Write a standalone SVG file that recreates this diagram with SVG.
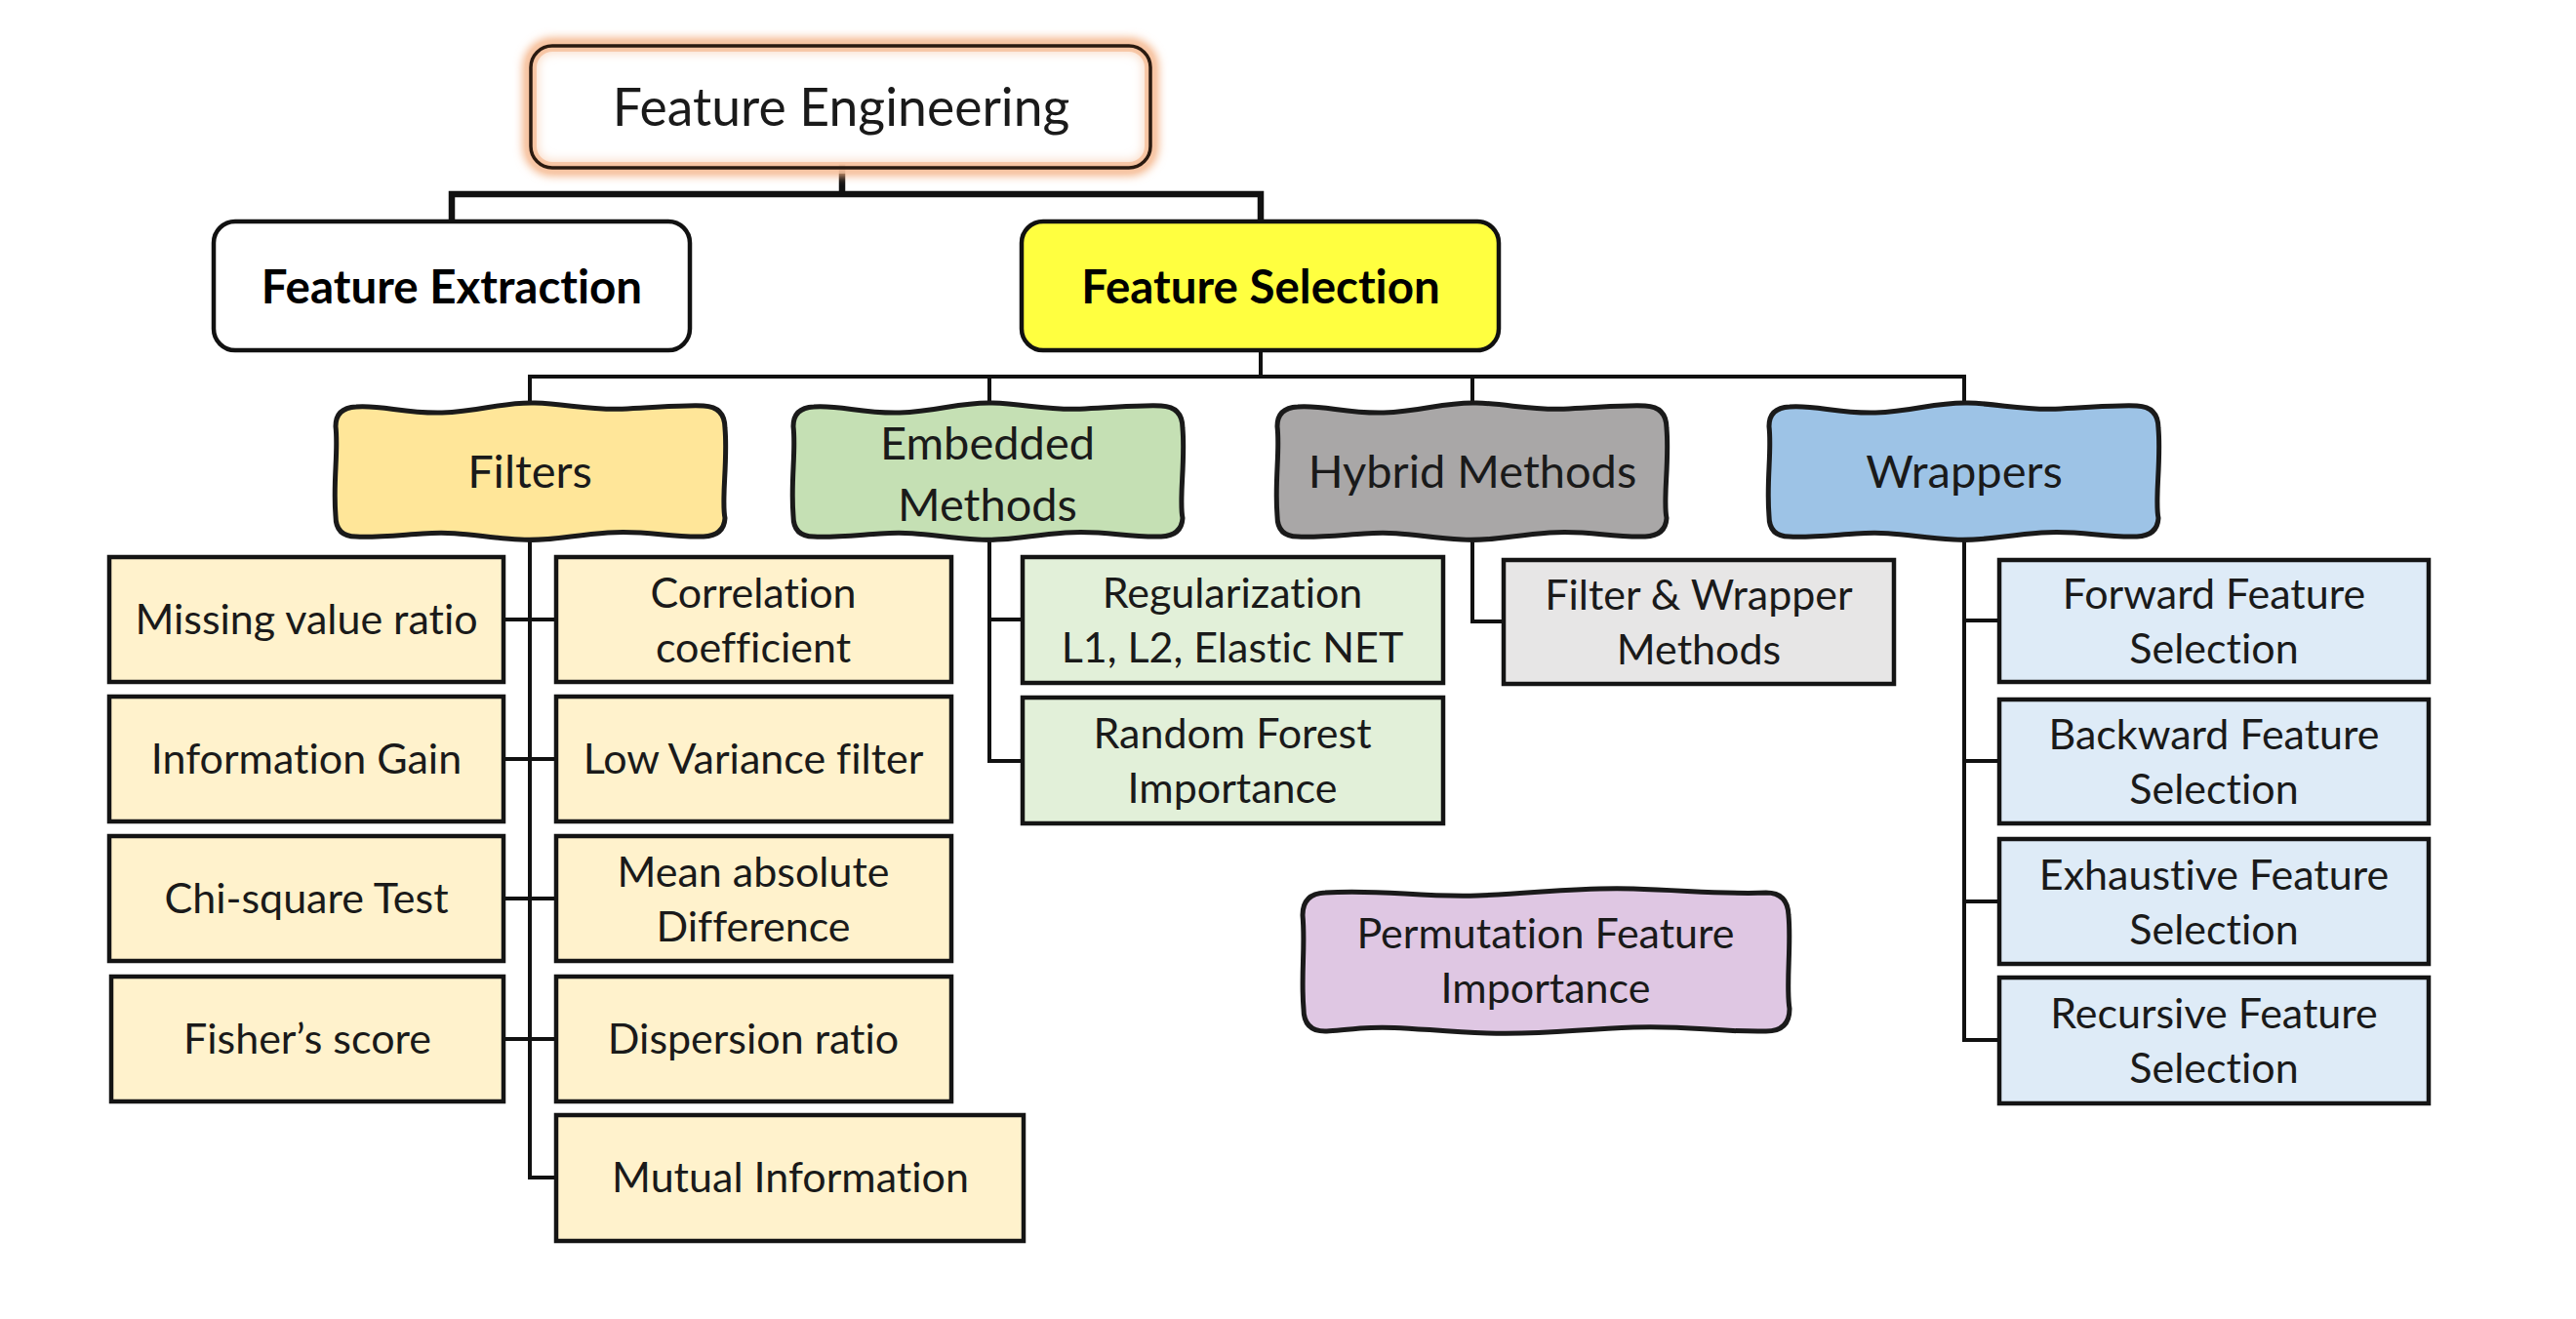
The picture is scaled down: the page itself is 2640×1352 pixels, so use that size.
<svg xmlns="http://www.w3.org/2000/svg" xmlns:xlink="http://www.w3.org/1999/xlink" width="2640" height="1352" viewBox="0 0 2640 1352">
<defs>
<style>
.t{font-family:Lato,"Open Sans","Liberation Sans",sans-serif;fill:#1a1a1a;text-anchor:middle;font-variant-ligatures:none}
.s1{font-size:53.5px}
.sb{font-size:47.5px;font-weight:bold;fill:#000}
.s2{font-size:47px}
.s3{font-size:43px}
.box3{stroke:#141414;stroke-width:4.5}
.wave{stroke:#1a1a1a;stroke-width:5;stroke-linejoin:round}
.round{stroke:#111;stroke-width:4.5}
.conn{stroke:#111;fill:none;stroke-width:4;stroke-linecap:square}
.thick{stroke-width:6.5}
</style>
<filter id="glow" x="-10%" y="-30%" width="120%" height="160%">
<feGaussianBlur stdDeviation="5"/>
</filter>
<path id="wave2" d="M 22,4 C 50,2 70,11 110,10 C 150,9 170,-1 205,0 C 240,1 260,8 300,6 C 340,4 360,2 378,3 Q 400,4 400,26 C 403,60 396,100 400,118 Q 399,136 378,137 C 340,138 320,130 280,133 C 240,136 220,142 190,140 C 150,138 130,131 90,134 C 60,136 40,138 22,137 Q 1,137 1,116 C -2,80 4,50 1,24 Q 1,5 22,4 Z"/>
</defs>
<rect width="2640" height="1352" fill="#ffffff"/>

<g id="connectors">
<path class="conn thick" d="M 863,172 V 199 M 463,226 V 199 H 1292 V 226"/>
<path class="conn" d="M 1292,359 V 386 M 543,413 V 386 H 2013 V 413 M 1014,386 V 413 M 1509,386 V 413"/>
<path class="conn" d="M 543,551 V 1207 H 570 M 516,635 H 570 M 516,778 H 570 M 516,921 H 570 M 516,1065 H 570"/>
<path class="conn" d="M 1014,553 V 780 H 1048 M 1014,635 H 1048"/>
<path class="conn" d="M 1509,553 V 637 H 1541"/>
<path class="conn" d="M 2013,553 V 1066 H 2049 M 2013,636 H 2049 M 2013,780 H 2049 M 2013,924 H 2049"/>
</g>

<g id="feature-engineering">
<rect x="544" y="47" width="635" height="125" rx="22" fill="none" stroke="#F4B183" stroke-width="16" filter="url(#glow)"/>
<rect x="544" y="47" width="635" height="125" rx="22" fill="#ffffff" stroke="#F8CBAD" stroke-width="12" opacity="0.6"/>
<rect x="544" y="47" width="635" height="125" rx="22" fill="none" stroke="#2a1a10" stroke-width="3.5"/>
<text class="t s1" x="862" y="129">Feature Engineering</text>
</g>

<g id="feature-extraction">
<rect class="round" x="219" y="227" width="488" height="132" rx="22" fill="#ffffff"/>
<text class="t sb" x="463" y="311">Feature Extraction</text>
</g>

<g id="feature-selection">
<rect class="round" x="1047" y="227" width="489" height="132" rx="22" fill="#FFFF40"/>
<text class="t sb" x="1292" y="311">Feature Selection</text>
</g>

<g id="filters">
<use xlink:href="#wave2" href="#wave2" class="wave" fill="#FFE699" transform="translate(343,413)"/>
<text class="t s2" x="543" y="500">Filters</text>
</g>
<g id="embedded-methods">
<use xlink:href="#wave2" href="#wave2" class="wave" fill="#C5E0B4" transform="translate(812,413)"/>
<text class="t s2" x="1012" y="471">Embedded</text>
<text class="t s2" x="1012" y="534">Methods</text>
</g>
<g id="hybrid-methods">
<use xlink:href="#wave2" href="#wave2" class="wave" fill="#A9A7A7" transform="translate(1308,413)"/>
<text class="t s2" x="1509" y="500">Hybrid Methods</text>
</g>
<g id="wrappers">
<use xlink:href="#wave2" href="#wave2" class="wave" fill="#9DC3E6" transform="translate(1812,413)"/>
<text class="t s2" x="2013" y="500">Wrappers</text>
</g>

<g id="missing-value-ratio">
<rect class="box3" x="112" y="571" width="404" height="128" fill="#FFF2CC"/>
<text class="t s3" x="314" y="650">Missing value ratio</text>
</g>
<g id="information-gain">
<rect class="box3" x="112" y="714" width="404" height="128" fill="#FFF2CC"/>
<text class="t s3" x="314" y="793">Information Gain</text>
</g>
<g id="chi-square-test">
<rect class="box3" x="112" y="857" width="404" height="128" fill="#FFF2CC"/>
<text class="t s3" x="314" y="936">Chi-square Test</text>
</g>
<g id="fishers-score">
<rect class="box3" x="114" y="1001" width="402" height="128" fill="#FFF2CC"/>
<text class="t s3" x="315" y="1080">Fisher’s score</text>
</g>

<g id="correlation-coefficient">
<rect class="box3" x="570" y="571" width="405" height="128" fill="#FFF2CC"/>
<text class="t s3" x="772" y="623">Correlation</text>
<text class="t s3" x="772" y="679">coefficient</text>
</g>
<g id="low-variance-filter">
<rect class="box3" x="570" y="714" width="405" height="128" fill="#FFF2CC"/>
<text class="t s3" x="772" y="793">Low Variance filter</text>
</g>
<g id="mean-absolute-difference">
<rect class="box3" x="570" y="857" width="405" height="128" fill="#FFF2CC"/>
<text class="t s3" x="772" y="909">Mean absolute</text>
<text class="t s3" x="772" y="965">Difference</text>
</g>
<g id="dispersion-ratio">
<rect class="box3" x="570" y="1001" width="405" height="128" fill="#FFF2CC"/>
<text class="t s3" x="772" y="1080">Dispersion ratio</text>
</g>
<g id="mutual-information">
<rect class="box3" x="570" y="1143" width="479" height="129" fill="#FFF2CC"/>
<text class="t s3" x="810" y="1222">Mutual Information</text>
</g>

<g id="regularization">
<rect class="box3" x="1048" y="571" width="431" height="129" fill="#E2F0D9"/>
<text class="t s3" x="1263" y="623">Regularization</text>
<text class="t s3" x="1263" y="679">L1, L2, Elastic NET</text>
</g>
<g id="random-forest-importance">
<rect class="box3" x="1048" y="715" width="431" height="129" fill="#E2F0D9"/>
<text class="t s3" x="1263" y="767">Random Forest</text>
<text class="t s3" x="1263" y="823">Importance</text>
</g>

<g id="filter-wrapper-methods">
<rect class="box3" x="1541" y="574" width="400" height="127" fill="#E7E6E6"/>
<text class="t s3" x="1741" y="625">Filter &amp; Wrapper</text>
<text class="t s3" x="1741" y="681">Methods</text>
</g>

<g id="forward-feature-selection">
<rect class="box3" x="2049" y="574" width="440" height="125" fill="#DEEBF7"/>
<text class="t s3" x="2269" y="624">Forward Feature</text>
<text class="t s3" x="2269" y="680">Selection</text>
</g>
<g id="backward-feature-selection">
<rect class="box3" x="2049" y="717" width="440" height="127" fill="#DEEBF7"/>
<text class="t s3" x="2269" y="768">Backward Feature</text>
<text class="t s3" x="2269" y="824">Selection</text>
</g>
<g id="exhaustive-feature-selection">
<rect class="box3" x="2049" y="860" width="440" height="128" fill="#DEEBF7"/>
<text class="t s3" x="2269" y="912">Exhaustive Feature</text>
<text class="t s3" x="2269" y="968">Selection</text>
</g>
<g id="recursive-feature-selection">
<rect class="box3" x="2049" y="1002" width="440" height="129" fill="#DEEBF7"/>
<text class="t s3" x="2269" y="1054">Recursive Feature</text>
<text class="t s3" x="2269" y="1110">Selection</text>
</g>

<g id="permutation-feature-importance">
<path class="wave" fill="#DFC7E3" transform="translate(1334,910)" d="M 24,5 C 80,1 120,10 180,8 C 240,6 280,-1 340,1 C 400,3 440,7 476,5 Q 498,5 499,28 C 502,60 496,100 500,124 Q 500,147 476,147 C 420,148 400,141 340,143 C 280,145 250,151 190,149 C 130,147 100,141 60,144 C 40,146 30,147 24,147 Q 2,147 2,124 C -1,90 4,60 1,28 Q 1,6 24,5 Z"/>
<text class="t s3" x="1584" y="972">Permutation Feature</text>
<text class="t s3" x="1584" y="1028">Importance</text>
</g>
</svg>
